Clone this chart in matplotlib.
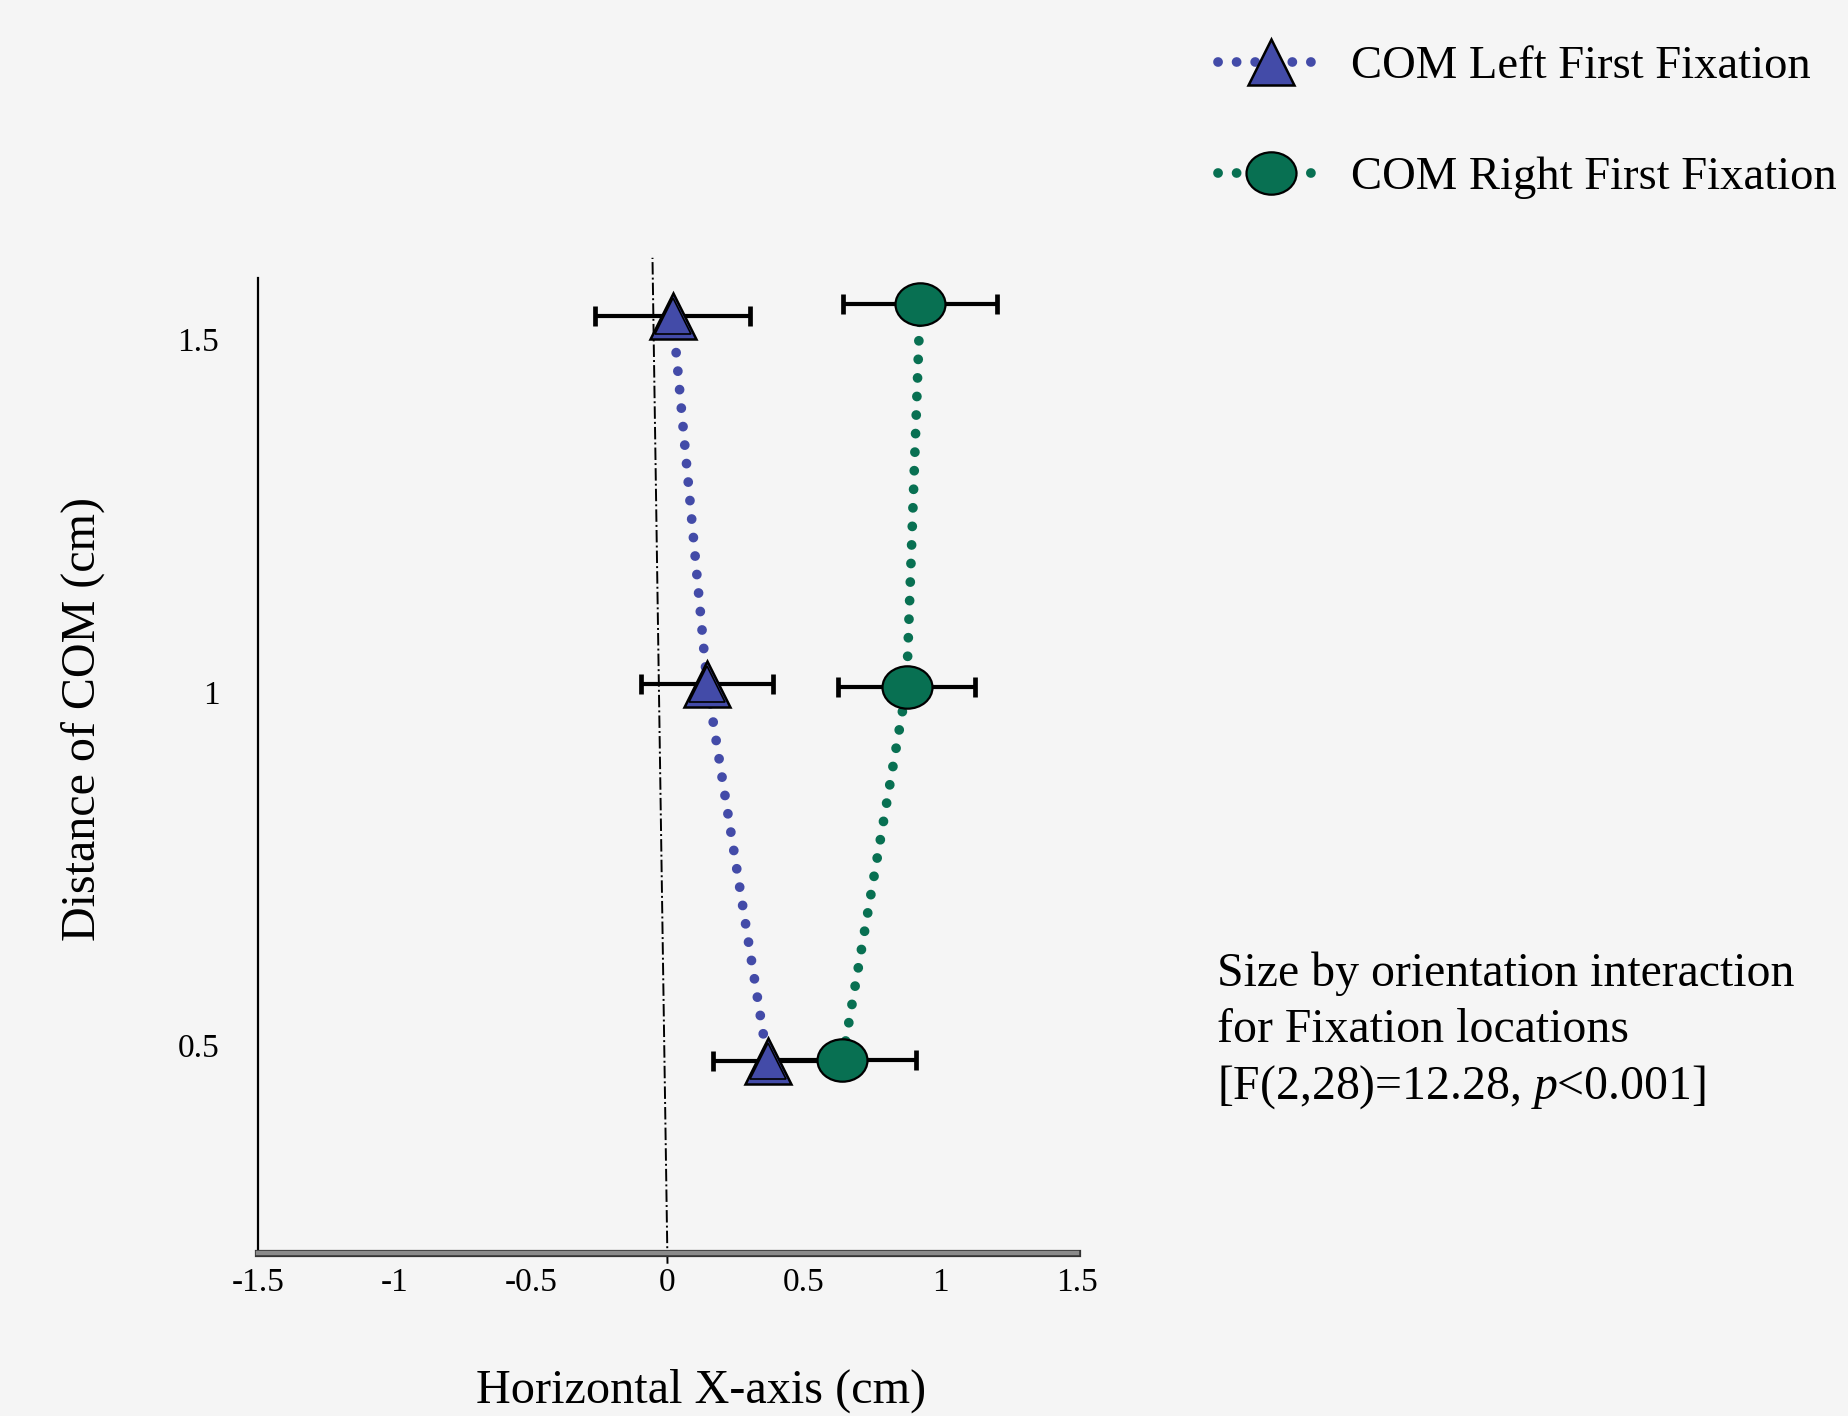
import matplotlib
matplotlib.use("Agg")
import matplotlib.pyplot as plt
import matplotlib.patheffects as pe
from matplotlib.path import Path
from matplotlib.transforms import Affine2D
from matplotlib.lines import Line2D

# ---- data ----
left_x = [0.019, 0.145, 0.367]
left_y = [1.534, 1.012, 0.477]
left_err = [0.285, 0.242, 0.199]

right_x = [0.926, 0.876, 0.641]
right_y = [1.551, 1.007, 0.479]
right_err = [0.283, 0.252, 0.27]

xticks = [-1.5, -1, -0.5, 0, 0.5, 1, 1.5]
xtick_labels = ["-1.5", "-1", "-0.5", "0", "0.5", "1", "1.5"]
yticks = [0.5, 1, 1.5]
ytick_labels = ["0.5", "1", "1.5"]

label_left = "COM Left First Fixation"
label_right = "COM Right First Fixation"
xlabel = "Horizontal X-axis (cm)"
ylabel = "Distance of COM (cm)"
note = "Size by orientation interaction\nfor Fixation locations\n[F(2,28)=12.28, $p$<0.001]"

BLUE = "#434BA8"
GREEN = "#087052"
BG = "#f5f5f5"

plt.rcParams["font.family"] = ["Liberation Serif", "DejaVu Serif"]
plt.rcParams["mathtext.fontset"] = "custom"
plt.rcParams["mathtext.rm"] = "Liberation Serif"
plt.rcParams["mathtext.it"] = "Liberation Serif:italic"

ellipse = Path.unit_circle().transformed(Affine2D().scale(1.18, 1.0))

fig = plt.figure(figsize=(9.24, 7.08), dpi=200, facecolor=BG)
ax = fig.add_axes([0.1397, 0.115, 0.443, 0.689])
ax.set_facecolor(BG)

ax.set_xlim(-1.5, 1.5)
ax.set_ylim(0.205, 1.588)

# zero reference line (slightly slanted as in the original)
ax.plot([0, -0.055], [0.19, 1.616], color="black", lw=0.7, ls="-.", clip_on=False, zorder=1)

LW = 3.5
dot = (0, (0.01, 1.9))
ax.plot(left_x, left_y, color=BLUE, lw=LW, ls=dot, dash_capstyle="round", zorder=2)
ax.plot(right_x, right_y, color=GREEN, lw=LW, ls=dot, dash_capstyle="round", zorder=2)

ax.errorbar(left_x, left_y, xerr=left_err, fmt="none", ecolor="black",
            elinewidth=1.5, capsize=3.7, capthick=1.7, zorder=3)
ax.errorbar(right_x, right_y, xerr=right_err, fmt="none", ecolor="black",
            elinewidth=1.5, capsize=3.7, capthick=1.7, zorder=3)

MS = 16.5
ax.plot(left_x, left_y, ls="none", marker="^", ms=MS, mfc=BLUE, mec="black", mew=0.9, zorder=4)
ax.plot(left_x, left_y, ls="none", marker="^", ms=MS - 3.4, mfc="none", mec="black", mew=0.6, zorder=5)
ax.plot(right_x, right_y, ls="none", marker=ellipse, ms=MS + 1.5, mfc=GREEN, mec="black", mew=0.8, zorder=4)

ax.set_xticks(xticks)
ax.set_xticklabels(xtick_labels)
ax.set_yticks(yticks)
ax.set_yticklabels(ytick_labels)
ax.tick_params(axis="x", length=0, pad=5, labelsize=12)
ax.tick_params(axis="y", length=0, pad=14, labelsize=12)

for s in ["top", "right"]:
    ax.spines[s].set_visible(False)
ax.spines["left"].set_linewidth(0.8)
ax.spines["bottom"].set_color("#8a8a8a")
ax.spines["bottom"].set_linewidth(1.6)
ax.spines["bottom"].set_path_effects([pe.withStroke(linewidth=2.6, foreground="#333333")])

fig.text(0.3795, 0.018, xlabel, ha="center", va="center", fontsize=17.4)
fig.text(0.0446, 0.492, ylabel, ha="center", va="center", rotation=90, fontsize=17.3)

fig.text(0.6588, 0.328, note, ha="left", va="top", fontsize=17.2, linespacing=1.34)

h1 = Line2D([], [], color=BLUE, lw=LW, ls=dot, dash_capstyle="round",
            marker="^", ms=MS, mfc=BLUE, mec="black", mew=0.9)
h2 = Line2D([], [], color=GREEN, lw=LW, ls=dot, dash_capstyle="round",
            marker=ellipse, ms=MS + 1.5, mfc=GREEN, mec="black", mew=0.8)
fig.legend([h1, h2], [label_left, label_right], loc="upper left",
           bbox_to_anchor=(0.659, 0.968), frameon=False, fontsize=16.8,
           handlelength=2.3, handletextpad=0.55, labelspacing=1.47,
           borderpad=0, borderaxespad=0)

fig.savefig("out.png", dpi=200, facecolor=BG)
